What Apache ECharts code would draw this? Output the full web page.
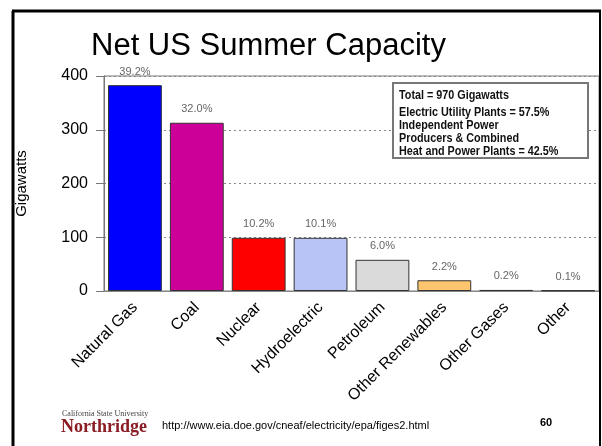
<!DOCTYPE html>
<html><head><meta charset="utf-8">
<script src="https://cdn.jsdelivr.net/npm/echarts@6/dist/echarts.min.js"></script>
<style>html,body{margin:0;padding:0;background:#fff}#c{width:602px;height:446px}</style>
</head><body><div id="c"></div>
<script>
const categories = ['Natural Gas','Coal','Nuclear','Hydroelectric','Petroleum','Other Renewables','Other Gases','Other'];
const gigawatts = [383, 313, 99, 99, 58, 20, 2, 1];
const shares = ['39.2%','32.0%','10.2%','10.1%','6.0%','2.2%','0.2%','0.1%'];
const barColors = ['#0000ff','#cc0099','#ff0000','#b8c4f6','#dadada','#ffc46e','#333333','#bbbbbb'];
const yTicks = [0, 100, 200, 300, 400];
const infoLines = ['Total = 970 Gigawatts','Electric Utility Plants = 57.5%','Independent Power','Producers & Combined','Heat and Power Plants = 42.5%'];

const chart = echarts.init(document.getElementById('c'), null, {renderer:'canvas'});
const ff = '"Liberation Sans", Arial, sans-serif';
chart.setOption({
  animation:false,
  backgroundColor:'#ffffff',
  title:{text:'Net US Summer Capacity', left:86, top:26,
    textStyle:{fontFamily:ff, fontSize:31, fontWeight:'normal', color:'#000'}},
  grid:{left:104, right:3, top:76, bottom:155, show:true, borderColor:'#777', borderWidth:1, backgroundColor:'transparent'},
  xAxis:{type:'category', data:categories,
    axisLine:{show:true, lineStyle:{color:'#888', width:1}},
    axisTick:{show:false},
    axisLabel:{rotate:45, interval:0, margin:14, fontFamily:ff, fontSize:16, color:'#000'}},
  yAxis:{type:'value', min:yTicks[0], max:yTicks[yTicks.length-1], interval:100,
    name:'Gigawatts', nameLocation:'middle', nameGap:75,
    nameTextStyle:{fontFamily:ff, fontSize:15, color:'#000'},
    axisLine:{show:true, lineStyle:{color:'#777', width:1}},
    axisTick:{show:true, inside:false, length:8, lineStyle:{color:'#777'}},
    axisLabel:{margin:16, fontFamily:ff, fontSize:16, color:'#000'},
    splitLine:{show:true, lineStyle:{color:'#888', type:[2,3], width:1}}},
  series:[{type:'bar', data:gigawatts.map((v,i)=>({value:v, itemStyle:{color:barColors[i]}})),
    barCategoryGap:'13%',
    itemStyle:{borderColor:'#333', borderWidth:1},
    label:{show:true, position:'top', distance:8, formatter:p=>shares[p.dataIndex],
      fontFamily:ff, fontSize:11, color:'#666'}}],
  graphic:[
    {type:'rect', shape:{x:393, y:83, width:195, height:75}, style:{fill:'#fff', stroke:'#777', lineWidth:2}, z:10},
    {type:'text', x:399, y:90, scaleX:0.9, z:11, style:{text:infoLines[0], font:'bold 12px '+ff, fill:'#111'}},
    {type:'text', x:399, y:106, scaleX:0.9, z:11, style:{text:infoLines.slice(1).join('\n'), font:'bold 12px '+ff, fill:'#111', lineHeight:13}},
    {type:'line', shape:{x1:13, y1:11, x2:13, y2:446}, style:{stroke:'#000', lineWidth:3}, z:20},
    {type:'line', shape:{x1:12, y1:11, x2:601, y2:11}, style:{stroke:'#000', lineWidth:3}, z:20},
    {type:'line', shape:{x1:600, y1:11, x2:600, y2:446}, style:{stroke:'#000', lineWidth:2}, z:20},
    {type:'text', left:62, top:410, style:{text:'California State University', font:'8px "Liberation Serif", serif', fill:'#444'}},
    {type:'text', left:61, top:418, style:{text:'Northridge', font:'bold 18px "Liberation Serif", serif', fill:'#8a1c24'}},
    {type:'text', left:162, top:420, style:{text:'http://www.eia.doe.gov/cneaf/electricity/epa/figes2.html', font:'11px '+ff, fill:'#000'}},
    {type:'text', left:540, top:417, style:{text:'60', font:'bold 11px '+ff, fill:'#000'}}
  ]
});
</script></body></html>
